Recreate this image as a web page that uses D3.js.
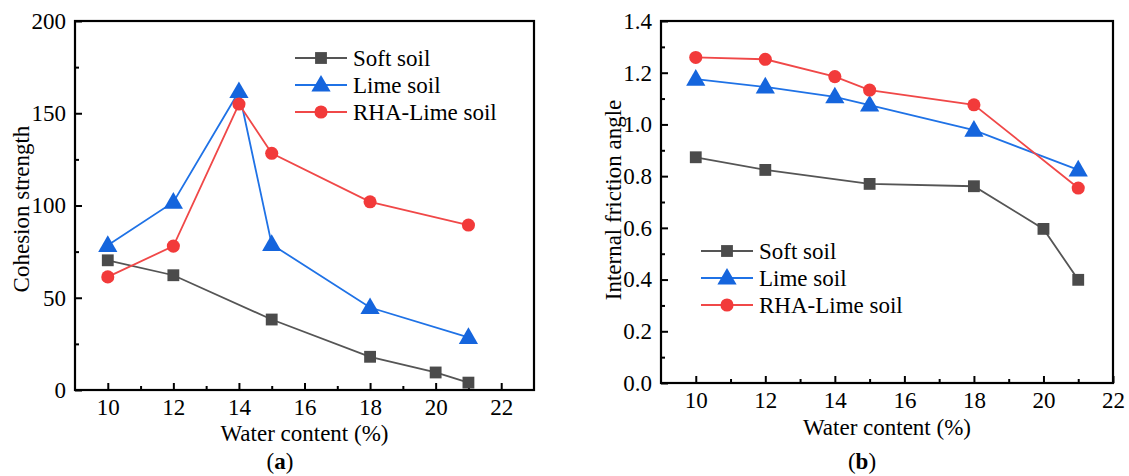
<!DOCTYPE html>
<html><head><meta charset="utf-8">
<script src="https://cdn.jsdelivr.net/npm/d3@7"></script>
<style>
html,body{margin:0;padding:0;background:#fff;}
svg{display:block;}
</style></head>
<body><svg id="c" width="1129" height="476"></svg>
<script>
// ---- data ----
const seriesNames = ["Soft soil", "Lime soil", "RHA-Lime soil"];
const xSoft = [10, 12, 15, 18, 20, 21];
const xLime = [10, 12, 14, 15, 18, 21];
const xRHA  = [10, 12, 14, 15, 18, 21];
const cohesionSoft = [70.3, 62.2, 38.2, 18.0, 9.5, 4.0];
const cohesionLime = [78.4, 101.8, 161.8, 78.9, 44.7, 28.5];
const cohesionRHA  = [61.3, 78.0, 155.0, 128.3, 102.0, 89.4];
const frictionSoft = [0.873, 0.824, 0.770, 0.761, 0.596, 0.399];
const frictionLime = [1.175, 1.145, 1.107, 1.075, 0.978, 0.824];
const frictionRHA  = [1.259, 1.252, 1.185, 1.133, 1.076, 0.754];
const xTicks = [10, 12, 14, 16, 18, 20, 22];
const yTicksA = [0, 50, 100, 150, 200];
const yTicksB = [0, 0.2, 0.4, 0.6, 0.8, 1.0, 1.2, 1.4];

const FONT = "Liberation Serif, Times New Roman, serif";
const FS = 23;
const colors = ["#4b4b4b", "#1565dd", "#f23a3a"];
const lineColors = ["#555555", "#1f72e6", "#f04848"];
const shapes = [d3.symbolSquare, d3.symbolTriangle, d3.symbolCircle];
const shapeSizes = [140, 160, 135];

const svg = d3.select("#c");

function txt(sel) {
  return sel.attr("font-family", FONT).attr("font-size", FS).attr("fill", "#000");
}

function panel(cfg) {
  const g = svg.append("g");
  const x = d3.scaleLinear().domain(cfg.xDomain).range([cfg.left, cfg.right]);
  const y = d3.scaleLinear().domain(cfg.yDomain).range([cfg.bottom, cfg.top]);

  // minor ticks
  const xMinor = d3.range(cfg.xDomain[0] + 1, cfg.xDomain[1], 1).filter(v => v % 2 === 1);
  g.append("g").attr("transform", `translate(0,${cfg.bottom})`)
    .call(d3.axisBottom(x).tickValues(xMinor).tickSize(-4).tickFormat(""))
    .call(a => a.select(".domain").remove())
    .selectAll("line").attr("stroke", "#000").attr("stroke-width", 2);
  g.append("g").attr("transform", `translate(${cfg.left},0)`)
    .call(d3.axisLeft(y).tickValues(cfg.yMinor).tickSize(-4).tickFormat(""))
    .call(a => a.select(".domain").remove())
    .selectAll("line").attr("stroke", "#000").attr("stroke-width", 2);

  // major axes
  const xa = g.append("g").attr("transform", `translate(0,${cfg.bottom})`)
    .call(d3.axisBottom(x).tickValues(xTicks).tickSizeInner(-7).tickSizeOuter(0).tickPadding(9).tickFormat(d3.format("d")));
  xa.select(".domain").remove();
  xa.selectAll("line").attr("stroke", "#000").attr("stroke-width", 2);
  txt(xa.selectAll("text"));

  const ya = g.append("g").attr("transform", `translate(${cfg.left},0)`)
    .call(d3.axisLeft(y).tickValues(cfg.yTicks).tickSizeInner(-7).tickSizeOuter(0).tickPadding(9).tickFormat(cfg.yFmt));
  ya.select(".domain").remove();
  ya.selectAll("line").attr("stroke", "#000").attr("stroke-width", 2);
  txt(ya.selectAll("text"));

  // frame
  g.append("rect").attr("x", cfg.left).attr("y", cfg.top)
    .attr("width", cfg.right - cfg.left).attr("height", cfg.bottom - cfg.top)
    .attr("fill", "none").attr("stroke", "#000").attr("stroke-width", 2.2);

  // series
  const line = d3.line().x(d => x(d[0])).y(d => y(d[1]));
  cfg.series.forEach((s, i) => {
    const pts = s.x.map((v, k) => [v, s.y[k]]);
    g.append("path").datum(pts).attr("d", line)
      .attr("fill", "none").attr("stroke", lineColors[i]).attr("stroke-width", 1.8);
  });
  cfg.series.forEach((s, i) => {
    const pts = s.x.map((v, k) => [v, s.y[k]]);
    g.selectAll(null).data(pts).enter().append("path")
      .attr("d", d3.symbol().type(shapes[i]).size(shapeSizes[i]))
      .attr("transform", d => `translate(${x(d[0])},${y(d[1]) + (i === 1 ? 1 : 0)})`)
      .attr("fill", colors[i]);
  });

  // legend
  seriesNames.forEach((name, i) => {
    const ly = cfg.legY + i * cfg.legStep;
    g.append("line").attr("x1", cfg.legX).attr("x2", cfg.legX + 52)
      .attr("y1", ly).attr("y2", ly).attr("stroke", lineColors[i]).attr("stroke-width", 1.8);
    g.append("path").attr("d", d3.symbol().type(shapes[i]).size(shapeSizes[i]))
      .attr("transform", `translate(${cfg.legX + 26},${ly + (i === 1 ? 1 : 0)})`).attr("fill", colors[i]);
    txt(g.append("text")).attr("x", cfg.legX + 58).attr("y", ly + 8).text(name);
  });

  // axis titles
  txt(g.append("text")).attr("x", (cfg.left + cfg.right) / 2).attr("y", cfg.xTitleY)
    .attr("text-anchor", "middle").text("Water content (%)");
  txt(g.append("text")).attr("transform", `translate(${cfg.yTitleX},${cfg.yTitleCY}) rotate(-90)`)
    .attr("text-anchor", "middle").text(cfg.yTitle);

  // caption
  const cap = txt(g.append("text")).attr("x", cfg.capX).attr("y", 469).attr("text-anchor", "middle");
  cap.append("tspan").text("(");
  cap.append("tspan").attr("font-weight", "bold").text(cfg.capLetter);
  cap.append("tspan").text(")");
}

panel({
  left: 75, right: 534, top: 21, bottom: 390,
  xDomain: [9, 23], yDomain: [0, 200],
  yTicks: yTicksA, yMinor: [25, 75, 125, 175], yFmt: d3.format("d"),
  series: [{x: xSoft, y: cohesionSoft}, {x: xLime, y: cohesionLime}, {x: xRHA, y: cohesionRHA}],
  legX: 295, legY: 58, legStep: 27,
  xTitleY: 441, yTitleX: 29, yTitleCY: 209, yTitle: "Cohesion strength",
  capX: 280, capLetter: "a"
});

panel({
  left: 661, right: 1113, top: 21, bottom: 383,
  xDomain: [9, 22], yDomain: [0, 1.4],
  yTicks: yTicksB, yMinor: [0.1, 0.3, 0.5, 0.7, 0.9, 1.1, 1.3], yFmt: d3.format(".1f"),
  series: [{x: xSoft, y: frictionSoft}, {x: xLime, y: frictionLime}, {x: xRHA, y: frictionRHA}],
  legX: 701, legY: 251, legStep: 27,
  xTitleY: 435, yTitleX: 621, yTitleCY: 200, yTitle: "Internal friction angle",
  capX: 862, capLetter: "b"
});
</script></body></html>
